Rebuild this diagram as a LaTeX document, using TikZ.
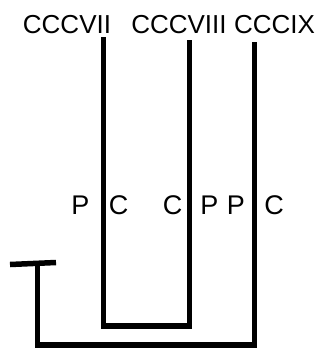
\documentclass[tikz,border=0pt]{standalone}
\usepackage{fontspec}
\setmainfont{Liberation Sans}
\begin{document}
\begin{tikzpicture}[x=1pt,y=-1pt,
  branch/.style={line width=5.5pt,line cap=butt,line join=miter},
  lbl/.style={font=\fontsize{26}{26}\selectfont,inner sep=0pt,anchor=base},
  side/.style={font=\fontsize{27}{27}\selectfont,inner sep=0pt,anchor=base}]
\useasboundingbox (0,0) rectangle (322,348);
\node[lbl] (t1) at (67,33) {CCCVII};
\node[lbl] (t2) at (179,33) {CCCVIII};
\node[lbl] (t3) at (274.5,33) {CCCIX};
\coordinate (a) at (103.5,37);
\coordinate (b) at (189.5,40);
\coordinate (c) at (254.5,42);
\coordinate (ab) at (103.5,326);
\coordinate (bb) at (189.5,326);
\coordinate (cb) at (254.5,345);
\coordinate (r) at (37.5,345);
\coordinate (rt) at (37.5,264);
\coordinate (s1) at (10,264.5);
\coordinate (s2) at (56,262.5);
\draw[branch] (a) -- (ab) -- (bb) -- (b);
\draw[branch] (c) -- (cb) -- (r) -- (rt);
\draw[branch] (s1) -- (s2);
\node[side] (p1) at (80.5,214) {P};
\node[side] (c1) at (118.5,214) {C};
\node[side] (c2) at (172.5,214) {C};
\node[side] (p2) at (209.5,214) {P};
\node[side] (p3) at (236,214) {P};
\node[side] (c3) at (274,214) {C};
\end{tikzpicture}
\end{document}
